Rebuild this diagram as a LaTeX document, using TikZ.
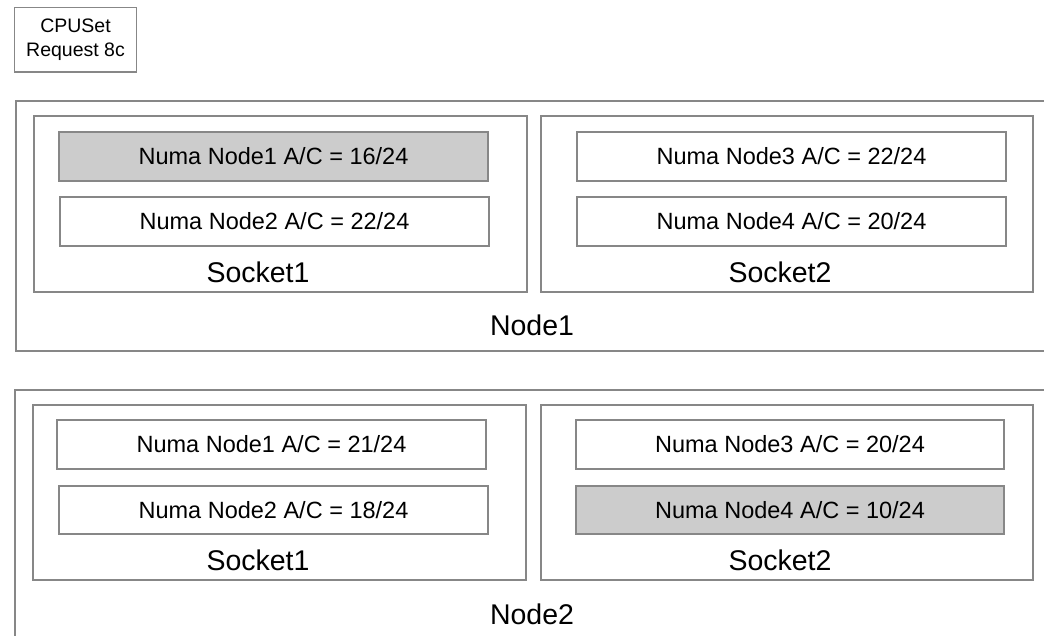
\documentclass[tikz,border=0pt]{standalone}
\usepackage{fontspec}
\setmainfont{Liberation Sans}
\usepackage{tikz}

\begin{document}
\begin{tikzpicture}[x=1pt,y=-1pt,
        box/.style = {draw=black!47, line width=1.2pt, inner sep=0pt, outer sep=0pt},
        host/.style = {box, minimum width=1044, minimum height=250},
        socket/.style = {box, minimum width=493, minimum height=176},
        numa/.style = {box, fill=white, minimum width=429, minimum height=49, font=\fontsize{23.5}{28}\selectfont},
        busy/.style = {numa, fill=black!20},
        lbl/.style = {inner sep=0pt, font=\fontsize{28.5}{34}\selectfont}]
        \useasboundingbox (0,0) rectangle (1044,636);
        \clip (0,0) rectangle (1044,636);
        \node[box, minimum width=122, minimum height=64.5, align=center, font=\fontsize{19.5}{23.4}\selectfont] (req) at (75.5,39.75) {CPUSet\\Request 8c};
        % Node1
        \node[host] (h1) at (538,226) {};
        \node[socket] (h1s1) at (280.5,204) {};
        \node[socket, minimum width=492] (h1s2) at (787,204) {};
        \node[busy] (h1n1) at (273.5,156.5) {Numa Node1 A/C = 16/24};
        \node[numa] (h1n2) at (274.5,221.5) {Numa Node2 A/C = 22/24};
        \node[numa] (h1n3) at (791.5,156.5) {Numa Node3 A/C = 22/24};
        \node[numa] (h1n4) at (791.5,221.5) {Numa Node4 A/C = 20/24};
        \node[lbl] (h1l1) at (258,272) {Socket1};
        \node[lbl] (h1l2) at (780,272) {Socket2};
        \node[lbl] (h1l) at (532,325) {Node1};
        % Node2
        \node[host, minimum height=270] (h2) at (537,525) {};
        \node[socket, minimum height=175] (h2s1) at (279.5,492.5) {};
        \node[socket, minimum width=492, minimum height=175] (h2s2) at (787,492.5) {};
        \node[numa] (h2n1) at (271.5,444.5) {Numa Node1 A/C = 21/24};
        \node[numa, minimum height=48] (h2n2) at (273.5,510) {Numa Node2 A/C = 18/24};
        \node[numa, minimum width=428] (h2n3) at (790,444.5) {Numa Node3 A/C = 20/24};
        \node[busy, minimum width=428, minimum height=48] (h2n4) at (790,510) {Numa Node4 A/C = 10/24};
        \node[lbl] (h2l1) at (258,560) {Socket1};
        \node[lbl] (h2l2) at (780,560) {Socket2};
        \node[lbl] (h2l) at (532,614) {Node2};
\end{tikzpicture}
\end{document}
